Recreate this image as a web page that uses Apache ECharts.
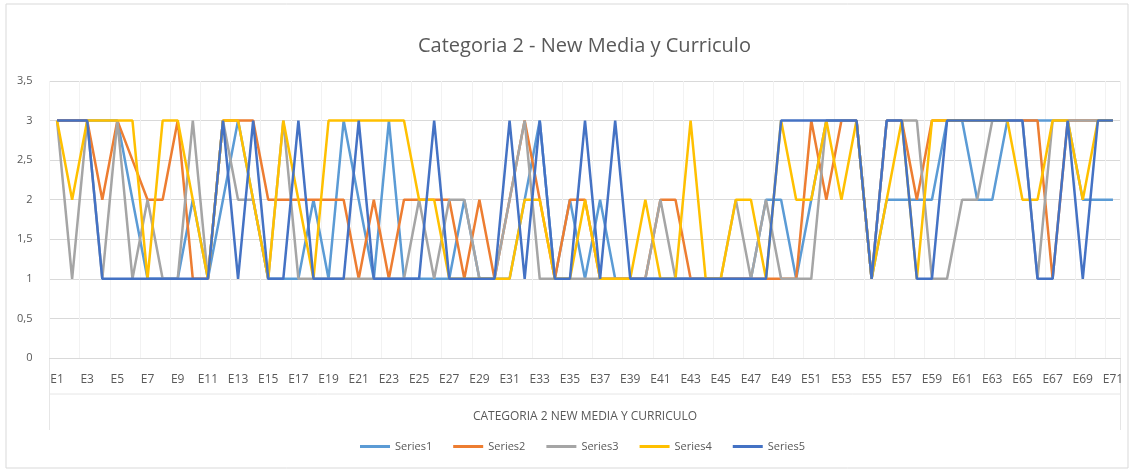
<!DOCTYPE html>
<html>
<head>
<meta charset="utf-8">
<title>Categoria 2 - New Media y Curriculo</title>
<script src="https://cdn.jsdelivr.net/npm/echarts@6/dist/echarts.min.js"></script>
<style>
  html, body { margin: 0; padding: 0; background: #fff; }
  #chart { width: 1132px; height: 471px; }
</style>
</head>
<body>
<div id="chart"></div>
<script>
// categorias E1..E71
var categories = [];
for (var n = 1; n <= 71; n++) categories.push('E' + n);

var seriesNames = ['Series1', 'Series2', 'Series3', 'Series4', 'Series5'];

// valores
var series1 = [3,3,3,3,3,2,1,1,1,2, 1,2,3,2,1,1,1,2,1,3, 2,1,3,1,1,1,1,2,1,1,
               1,2,3,1,2,1,2,1,1,1, 1,1,1,1,1,1,1,2,2,1, 2,3,3,3,1,2,2,2,2,3,
               3,2,2,3,3,3,3,3,2,2, 2];
var series2 = [3,3,3,2,3,2.5,2,2,3,1, 1,3,3,3,2,2,2,2,2,2, 1,2,1,2,2,2,2,1,2,1,
               2,3,2,1,2,2,1,1,1,1, 2,2,1,1,1,1,1,1,1,1, 3,2,3,3,1,3,3,2,3,3,
               3,3,3,3,3,3,1,3,3,3, 3];
var series3 = [3,1,3,1,3,1,2,1,1,3, 1,3,2,2,1,3,1,1,1,1, 1,1,1,1,2,1,2,2,1,1,
               2,3,1,1,1,1,1,1,1,1, 2,1,1,1,1,2,1,2,1,1, 1,3,3,3,1,3,3,3,1,1,
               2,2,3,3,3,1,3,3,3,3, 3];
var series4 = [3,2,3,3,3,3,1,3,3,2, 1,3,3,2,1,3,2,1,3,3, 3,3,3,3,2,2,1,1,1,1,
               1,2,2,1,1,2,1,1,1,2, 1,1,3,1,1,2,2,1,3,2, 2,3,2,3,1,2,3,1,3,3,
               3,3,3,3,2,2,3,3,2,3, 3];
var series5 = [3,3,3,1,1,1,1,1,1,1, 1,3,1,3,1,1,3,1,1,1, 3,1,1,1,1,3,1,1,1,1,
               3,1,3,1,1,3,1,3,1,1, 1,1,1,1,1,1,1,1,3,3, 3,3,3,3,1,3,3,1,1,3,
               3,3,3,3,3,1,1,3,1,3, 3];

var colors = ['#5B9BD5', '#ED7D31', '#A5A5A5', '#FFC000', '#4472C4'];
var allData = [series1, series2, series3, series4, series5];

var FONT = "'Liberation Sans Narrow', 'Open Sans', sans-serif";

var chart = echarts.init(document.getElementById('chart'));

var seriesList = [];
for (var i = 0; i < allData.length; i++) {
  seriesList.push({
    name: seriesNames[i],
    type: 'line',
    data: allData[i],
    showSymbol: false,
    symbol: 'none',
    lineStyle: { color: colors[i], width: 2.5 },
    itemStyle: { color: colors[i] },
    animation: false
  });
}

chart.setOption({
  backgroundColor: '#fff',
  title: {
    text: 'Categoria 2 - New Media y Curriculo',
    left: 413,
    top: 31,
    textStyle: { fontFamily: FONT, fontSize: 20, fontWeight: 'normal', color: '#595959' }
  },
  grid: { left: 49.5, right: 11.5, top: 81, bottom: 113 },
  legend: {
    data: seriesNames,
    bottom: 14,
    left: 355,
    itemWidth: 30,
    itemHeight: 3,
    itemGap: 21,
    icon: 'rect',
    textStyle: { fontFamily: FONT, fontSize: 11, color: '#595959' }
  },
  xAxis: {
    type: 'category',
    data: categories,
    boundaryGap: true,
    name: 'CATEGORIA 2 NEW MEDIA Y CURRICULO',
    nameLocation: 'middle',
    nameGap: 53,
    nameTextStyle: { fontFamily: FONT, fontSize: 12, color: '#595959' },
    axisLine: { lineStyle: { color: '#D9D9D9' } },
    axisTick: { show: false },
    axisLabel: { interval: 1, fontFamily: FONT, fontSize: 12, color: '#595959', margin: 16 },
    splitLine: { show: true, lineStyle: { color: '#F2F2F2' } }
  },
  yAxis: {
    type: 'value',
    min: 0,
    max: 3.5,
    interval: 0.5,
    axisLine: { show: false },
    axisTick: { show: false },
    axisLabel: {
      fontFamily: FONT, fontSize: 11, color: '#595959', margin: 17,
      formatter: function (v) { return String(v).replace('.', ','); }
    },
    splitLine: { lineStyle: { color: '#D9D9D9' } }
  },
  graphic: [
    { type: 'line', shape: { x1: 49.5, y1: 394, x2: 1120.5, y2: 394 }, style: { stroke: '#E6E6E6', lineWidth: 1 } },
    { type: 'line', shape: { x1: 49.5, y1: 358, x2: 49.5, y2: 430 }, style: { stroke: '#E6E6E6', lineWidth: 1 } },
    { type: 'line', shape: { x1: 1120.5, y1: 358, x2: 1120.5, y2: 430 }, style: { stroke: '#E6E6E6', lineWidth: 1 } },
    { type: 'rect', shape: { x: 6, y: 4, width: 1122, height: 464 }, style: { fill: 'none', stroke: '#D9D9D9', lineWidth: 1 } }
  ],
  series: seriesList
});
</script>
</body>
</html>
